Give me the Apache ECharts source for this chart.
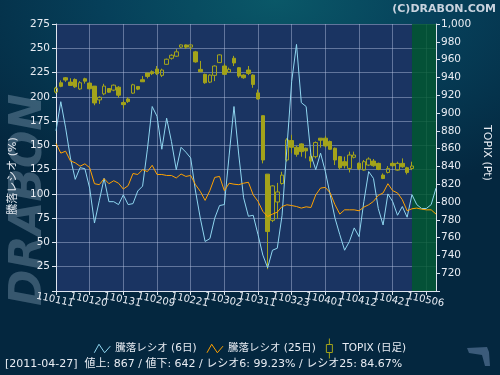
<!DOCTYPE html>
<html>
<head>
<meta charset="utf-8">
<script src="https://cdn.jsdelivr.net/npm/echarts@6/dist/echarts.min.js"></script>
<style>
  html, body { margin: 0; padding: 0; }
  body {
    width: 500px; height: 375px; overflow: hidden;
    background: radial-gradient(ellipse 75% 55% at 55% 0%, #0a5868 0%, #06405a 45%, #04273f 100%);
  }
  #chart { width: 500px; height: 375px; }
</style>
</head>
<body>
<div id="chart"></div>
<script>
// trading days, yymmdd
const categories = [
  '110111','110112','110113','110114','110117','110118','110119','110120','110121','110124',
  '110125','110126','110127','110128','110131','110201','110202','110203','110204','110207',
  '110208','110209','110210','110214','110215','110216','110217','110218','110221','110222',
  '110223','110224','110225','110228','110301','110302','110303','110304','110307','110308',
  '110309','110310','110311','110314','110315','110316','110317','110318','110322','110323',
  '110324','110325','110328','110329','110330','110331','110401','110404','110405','110406',
  '110407','110408','110411','110412','110413','110414','110415','110418','110419','110420',
  '110421','110422','110425','110426','110427','110428','110502','110506','110509','110510'
]

// 騰落レシオ (%)
const ratio6 = [
  165, 195, 168, 137, 115, 127, 126, 106, 70, 93,
  116, 92, 92, 89, 99, 89, 90, 103, 108, 146,
  190, 180, 146, 178, 154, 125, 148, 143, 137, 103,
  75, 51, 54, 75, 88, 89, 140, 190, 140, 96,
  77, 78, 58, 37, 24, 42, 44, 78, 147, 216,
  254, 194, 190, 140, 125, 142, 123, 99, 75, 58,
  42, 51, 65, 56, 92, 123, 116, 85, 68, 100,
  92, 78, 87, 76, 99.23, 89, 85, 85, 89, 106
]
const ratio25 = [
  152, 142, 144, 134, 132, 128.5, 131, 127, 110.5, 109.5,
  115.7, 110.5, 113.6, 111, 105, 108.5, 121, 120, 125, 123,
  129.5, 120, 120, 119, 119, 116.4, 120.5, 118, 119, 109.5,
  102.6, 93.3, 103.6, 117, 118, 103.3, 111, 110, 109.5, 111,
  112, 99, 92.3, 82, 76.7, 79.2, 81.2, 87, 88.8, 88,
  87, 85.4, 86.7, 86, 99, 106, 106.7, 101, 88.8, 79.2,
  83.6, 83.6, 83.6, 82.6, 86.4, 88.8, 92.3, 98.5, 101, 110.5,
  103.3, 101, 94, 82.6, 84.67, 85.4, 84.3, 83.6, 83.6, 79.2
]

// TOPIX daily (Pt)
const topixOpen = [
  923.5, 934, 939.6, 934.7, 937.7, 927, 938.5, 933.6, 930.2, 914.7,
  921.5, 927.5, 925.7, 929, 911.7, 915.8, 922.3, 929.8, 937.4, 944.9,
  946.4, 949.4, 942.3, 954.7, 961.5, 963.8, 974, 976.5, 974, 968.7,
  949, 943.4, 934.7, 942.3, 956.6, 952.8, 946, 961.5, 950.9, 942.6,
  948.3, 942.6, 922.6, 897, 831.3, 779.4, 800, 820.8, 847.2, 869,
  861.5, 865.3, 860.4, 850.9, 850.9, 871.7, 871.7, 868, 860.4, 851,
  845.3, 837.7, 850.2, 843.4, 835.8, 841.5, 846, 843.4, 830.2, 833.2,
  843.4, 835.8, 843.4, 838.5, 837.7
]
const topixClose = [
  928, 930, 937, 931, 929.4, 934, 935.8, 927.2, 911.3, 917.7,
  930.2, 923.4, 931.3, 920, 909.4, 912.8, 931.7, 926.8, 935.1, 941.1,
  944.2, 944.2, 948.3, 960.4, 964.9, 968.7, 976.5, 974, 976.5, 957.4,
  946.4, 934, 942.6, 952.8, 965.3, 943.4, 949, 956.2, 941.5, 939.6,
  944.5, 932.1, 915.8, 847.2, 766.8, 818.1, 811.3, 830.2, 869.8, 861.5,
  853.6, 856.6, 857.4, 846, 866.8, 869.4, 863, 859.2, 847.2, 838.5,
  840.8, 852.8, 852.8, 837.4, 845.3, 848.3, 840.8, 836.6, 826.4, 837.7,
  840.8, 843.4, 839.6, 833.2, 840.4
]
const topixLow = [
  922, 929, 935, 931, 928.3, 926, 933, 926.4, 908.7, 910.2,
  920, 922.6, 924.5, 917, 905, 911.3, 921.5, 925.7, 935.1, 938.9,
  942.6, 942.6, 940.4, 954, 960, 963, 973, 972, 970.6, 956.6,
  946.4, 932.8, 933.6, 935.8, 956.2, 942.6, 945.3, 952.8, 939.6, 938.5,
  942.6, 928.3, 915.1, 843.4, 724.5, 777.4, 781.1, 819.6, 845.3, 854.7,
  850.9, 850.9, 849, 838.5, 849, 861.1, 861.1, 858.5, 841.5, 836.6,
  837.7, 833.2, 849, 835.8, 835.1, 840.4, 839.6, 835.8, 825.7, 832.1,
  839.6, 835.1, 838.5, 831, 835.8
]
const topixHigh = [
  929.5, 936.6, 940.4, 939, 938.9, 935.8, 939.6, 934.7, 930.2, 918.9,
  932.8, 928, 932, 930.2, 914, 917.7, 932.8, 929.8, 941.5, 944.9,
  947.9, 952.8, 949.8, 961.1, 966, 971.7, 977, 977, 977, 969.8,
  958.5, 944.2, 943.4, 953.6, 966, 955.5, 951, 964.2, 951.7, 943.4,
  952.8, 943.4, 926.4, 897, 831.3, 818.9, 821.5, 834, 871.7, 875.5,
  863.4, 866, 861.1, 854.7, 868, 871.7, 874.3, 869, 861.1, 851.7,
  851, 856.6, 856.6, 844.5, 847.2, 850.2, 848.3, 844.2, 832.1, 840.4,
  845.3, 845.3, 849, 839.6, 845.3
]

const leftTicks = { min: 0, max: 275, step: 25 }
const rightTicks = { min: 700, max: 1000, step: 20 }
const labelEvery = 7

const FONT = '"DejaVu Sans", "Noto Sans CJK JP", sans-serif'
const CYAN = '#8fd6f0'
const ORANGE = '#ffa200'
const OLIVE = '#a3a31a'
const GRIDLINE = 'rgba(185, 198, 228, 0.45)'
const AXIS = '#dfe5ef'
const TEXT = '#e8ecf3'

const candles = topixOpen.map((o, i) => [o, topixClose[i], topixLow[i], topixHigh[i]])
const everyWeek = i => i % labelEvery === 0
// the labels overlap a little, so they are split over two stacked axes
const evenLabels = i => i % (labelEvery * 2) === 0
const oddLabels = i => i % (labelEvery * 2) === labelEvery

const dateLabel = {
  showMinLabel: true,
  showMaxLabel: true,
  rotate: -12,
  align: 'center',
  verticalAlign: 'top',
  margin: 4,
  hideOverlap: false,
  color: TEXT,
  fontSize: 10,
  fontFamily: FONT
}

const chart = echarts.init(document.getElementById('chart'), null, { renderer: 'canvas' })

const option = {
  backgroundColor: 'transparent',
  animation: false,
  textStyle: { fontFamily: FONT },
  grid: {
    left: 56, right: 64, top: 24, bottom: 84,
    show: true, backgroundColor: '#1a3462', borderWidth: 0
  },
  legend: {
    top: 333,
    left: 'center',
    itemWidth: 16,
    itemHeight: 20,
    itemGap: 10,
    symbolKeepAspect: true,
    selectedMode: false,
    textStyle: { color: TEXT, fontSize: 10.5, fontFamily: FONT },
    data: [
      {
        name: '騰落レシオ (6日)',
        icon: 'path://M0,10 L5,1 L11,10 L17,3',
        itemStyle: { color: 'transparent', borderColor: CYAN, borderWidth: 1 }
      },
      {
        name: '騰落レシオ (25日)',
        icon: 'path://M0,10 L5,1 L11,10 L17,3',
        itemStyle: { color: 'transparent', borderColor: ORANGE, borderWidth: 1 }
      },
      {
        name: 'TOPIX (日足)',
        icon: 'path://M4,0 L4,6 M1,6 L7,6 L7,14 L1,14 Z M4,14 L4,20',
        itemStyle: { color: 'transparent', borderColor: OLIVE, borderWidth: 1 }
      }
    ]
  },
  xAxis: [
    {
      type: 'category',
      position: 'bottom',
      data: categories,
      boundaryGap: false,
      axisLine: { lineStyle: { color: AXIS } },
      axisTick: { show: true, interval: everyWeek, length: 4, lineStyle: { color: AXIS } },
      axisLabel: Object.assign({ interval: evenLabels }, dateLabel),
      splitLine: { show: true, interval: everyWeek, lineStyle: { color: GRIDLINE } }
    },
    {
      type: 'category',
      position: 'bottom',
      offset: 0,
      data: categories,
      boundaryGap: false,
      axisLine: { show: false },
      axisTick: { show: false },
      axisLabel: Object.assign({ interval: oddLabels }, dateLabel),
      splitLine: { show: false }
    }
  ],
  yAxis: [
    {
      type: 'value',
      position: 'left',
      min: leftTicks.min, max: leftTicks.max, interval: leftTicks.step,
      axisLine: { show: true, lineStyle: { color: AXIS } },
      axisTick: { show: true, length: 4, lineStyle: { color: AXIS } },
      axisLabel: {
        color: TEXT, fontSize: 10.5, margin: 6, fontFamily: FONT,
        formatter: v => (v === leftTicks.min ? '' : String(v))
      },
      splitLine: { show: true, lineStyle: { color: GRIDLINE } }
    },
    {
      type: 'value',
      position: 'right',
      min: rightTicks.min, max: rightTicks.max, interval: rightTicks.step,
      axisLine: { show: true, lineStyle: { color: AXIS } },
      axisTick: { show: true, length: 4, lineStyle: { color: AXIS } },
      axisLabel: {
        color: TEXT, fontSize: 10.5, margin: 5, fontFamily: FONT,
        formatter: v => (v === rightTicks.min ? '' : v.toLocaleString('en-US'))
      },
      splitLine: { show: false }
    }
  ],
  series: [
    {
      name: '騰落レシオ (6日)',
      type: 'line',
      xAxisIndex: 0,
      yAxisIndex: 0,
      data: ratio6,
      symbol: 'none',
      lineStyle: { color: CYAN, width: 1 },
      itemStyle: { color: CYAN },
      z: 3,
      markArea: {
        silent: true,
        itemStyle: { color: 'rgba(0, 88, 46, 0.82)' },
        data: [[{ xAxis: '110427' }, { xAxis: '110510' }]]
      }
    },
    {
      name: '騰落レシオ (25日)',
      type: 'line',
      xAxisIndex: 0,
      yAxisIndex: 0,
      data: ratio25,
      symbol: 'none',
      lineStyle: { color: ORANGE, width: 1 },
      itemStyle: { color: ORANGE },
      z: 3
    },
    {
      name: 'TOPIX (日足)',
      type: 'candlestick',
      xAxisIndex: 0,
      yAxisIndex: 1,
      data: candles,
      barWidth: 4,
      itemStyle: {
        color: 'transparent',
        color0: OLIVE,
        borderColor: OLIVE,
        borderColor0: OLIVE,
        borderWidth: 1
      },
      z: 2
    }
  ],
  graphic: [
    {
      type: 'text',
      x: 30, y: 200,
      rotation: Math.PI / 2,
      z: -10,
      silent: true,
      style: {
        text: 'DRABON',
        font: 'italic bold 44px "DejaVu Sans"',
        fill: 'rgba(165, 190, 210, 0.32)',
        align: 'center',
        verticalAlign: 'middle'
      }
    },
    {
      type: 'text',
      x: 13, y: 176,
      rotation: Math.PI / 2,
      style: {
        text: '騰落レシオ (%)',
        font: '11px ' + FONT,
        fill: TEXT,
        align: 'center',
        verticalAlign: 'middle'
      }
    },
    {
      type: 'text',
      x: 487, y: 153,
      rotation: -Math.PI / 2,
      style: {
        text: 'TOPIX (Pt)',
        font: '11px ' + FONT,
        fill: TEXT,
        align: 'center',
        verticalAlign: 'middle'
      }
    },
    {
      type: 'text',
      right: 4, top: 4,
      style: {
        text: '(C)DRABON.COM',
        font: 'bold 11px ' + FONT,
        fill: '#c9d3df'
      }
    },
    {
      type: 'text',
      left: 5, top: 359,
      style: {
        text: '[2011-04-27]  値上: 867 / 値下: 642 / レシオ6: 99.23% / レシオ25: 84.67%',
        font: '11px ' + FONT,
        fill: TEXT
      }
    },
    {
      type: 'polygon',
      silent: true,
      shape: {
        points: [[467, 348], [487, 347], [489, 352], [490, 366], [485, 366], [482, 355], [469, 353]]
      },
      style: { fill: '#3b5b7a' }
    }
  ]
}

chart.setOption(option)
</script>
</body>
</html>
